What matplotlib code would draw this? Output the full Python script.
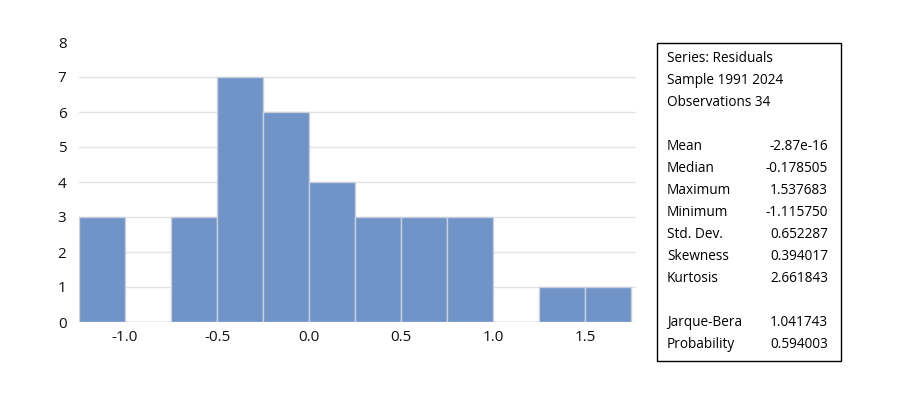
import numpy as np
import matplotlib.pyplot as plt
from matplotlib.patches import Rectangle

plt.rcParams['font.family'] = ['Open Sans', 'DejaVu Sans']

# histogram data
bin_edges = [-1.25, -1.0, -0.75, -0.5, -0.25, 0.0, 0.25, 0.5, 0.75, 1.0, 1.25, 1.5, 1.75]
counts = [3, 0, 3, 7, 6, 4, 3, 3, 3, 0, 1, 1]
x_ticks = [-1.0, -0.5, 0.0, 0.5, 1.0, 1.5]
y_ticks = [0, 1, 2, 3, 4, 5, 6, 7, 8]

header = ["Series: Residuals", "Sample 1991 2024", "Observations 34"]
stat_names = ["Mean", "Median", "Maximum", "Minimum", "Std. Dev.", "Skewness", "Kurtosis"]
stat_values = ["-2.87e-16", "-0.178505", "1.537683", "-1.115750", "0.652287", "0.394017", "2.661843"]
test_names = ["Jarque-Bera", "Probability"]
test_values = ["1.041743", "0.594003"]

W, H = 900, 408
fig = plt.figure(figsize=(9, 4.08), dpi=100)
ax = fig.add_axes([79 / W, (H - 322) / H, (636 - 79) / W, (322 - 42) / H])

widths = np.diff(bin_edges)
ax.bar(bin_edges[:-1], counts, width=widths, align='edge',
       color='#7094C8', edgecolor='#C8D0DC', linewidth=1, zorder=3)

ax.set_xlim(-1.25, 1.777)
ax.set_ylim(0, 8)
ax.set_xticks(x_ticks)
ax.set_xticklabels([f"{v:.1f}" for v in x_ticks])
ax.set_yticks(y_ticks)
ax.grid(axis='y', color='#E4E4E4', linewidth=1, zorder=0)
ax.yaxis.get_gridlines()[-1].set_visible(False)
for s in ax.spines.values():
    s.set_visible(False)
ax.tick_params(length=0, labelsize=11, colors='#111111')
ax.tick_params(axis='x', pad=6)
ax.tick_params(axis='y', pad=9)

# statistics box
fig.patches.append(Rectangle((657 / W, (H - 361) / H), 184 / W, 318 / H,
                             transform=fig.transFigure, fill=False,
                             edgecolor='black', linewidth=1))

def put(row_y, left, right=None):
    fig.text(667 / W, (H - row_y) / H, left, fontsize=9.8, va='center', ha='left')
    if right is not None:
        fig.text(828 / W, (H - row_y) / H, right, fontsize=9.8, va='center', ha='right')

y = 58
for h in header:
    put(y, h)
    y += 22
y += 22
for n, v in zip(stat_names, stat_values):
    put(y, n, v)
    y += 22
y += 22
for n, v in zip(test_names, test_values):
    put(y, n, v)
    y += 22

fig.savefig('out.png', dpi=100)
